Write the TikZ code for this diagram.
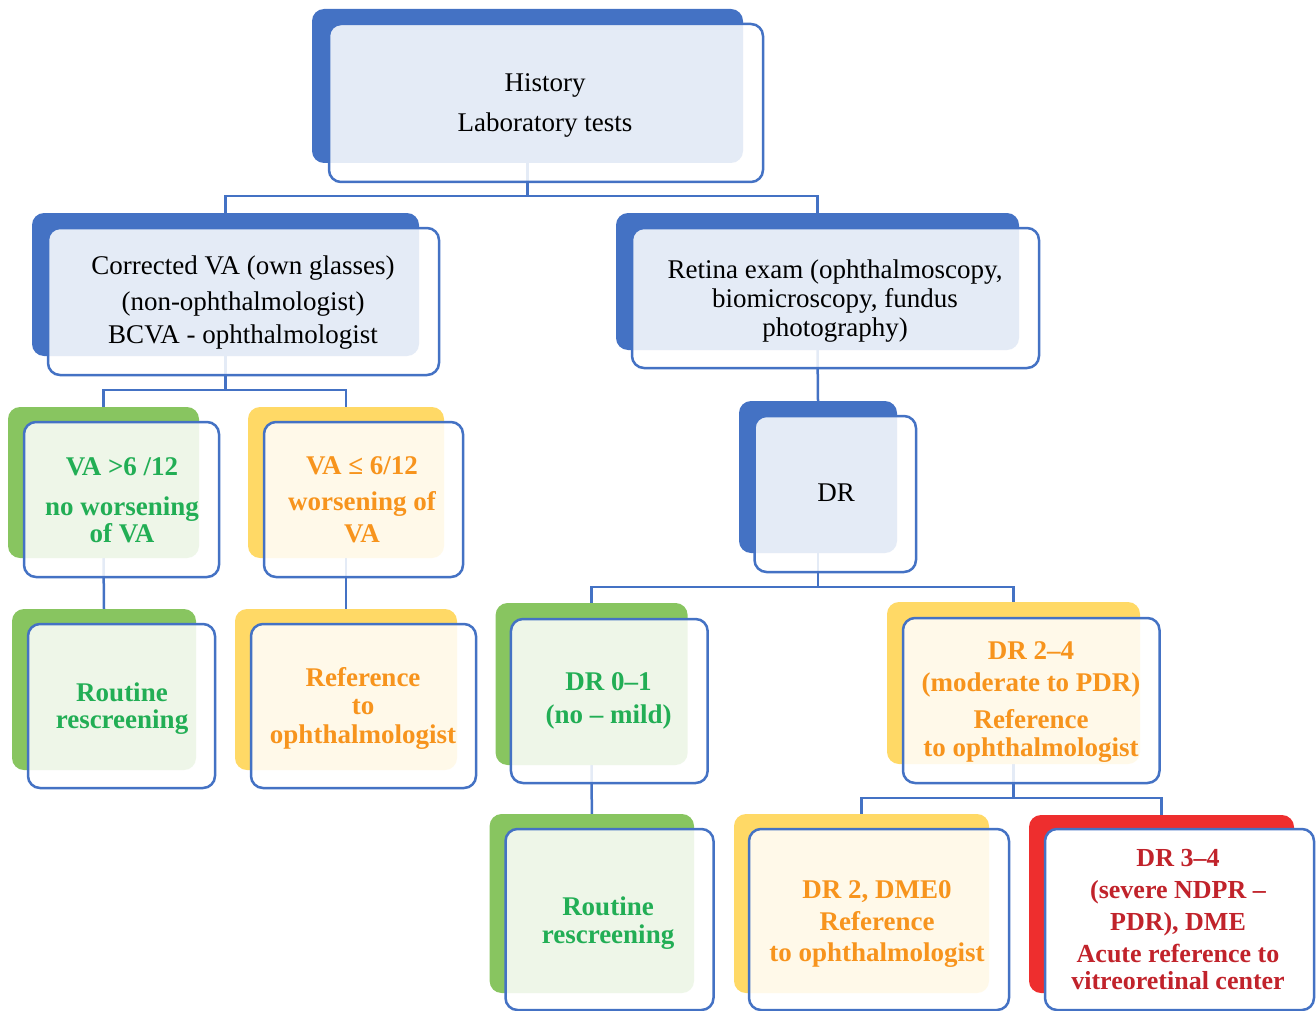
\documentclass[tikz,border=0pt]{standalone}
\usepackage{fontspec}
\setmainfont{Liberation Serif}
\usetikzlibrary{backgrounds}
\definecolor{dblue}{HTML}{4472C4}
\definecolor{bgreen}{HTML}{88C560}
\definecolor{byellow}{HTML}{FFD966}
\definecolor{bred}{HTML}{EE2E2E}
\definecolor{tgreen}{HTML}{22AE55}
\definecolor{torange}{HTML}{F7941D}
\definecolor{tred}{HTML}{C1232B}
\newcommand{\strH}{\rule{0pt}{25pt}}
\newcommand{\strD}{\rule[-6pt]{0pt}{6pt}}
\tikzset{
  backbox/.style={rectangle, rounded corners=12pt, inner sep=0pt, fill=#1, draw=none},
  frontbox/.style={rectangle, rounded corners=12pt, inner sep=0pt, draw=dblue, line width=2.5pt, fill=white, fill opacity=0.86},
  redfront/.style={rectangle, rounded corners=12pt, inner sep=0pt, draw=dblue, line width=2.5pt, fill=white},
  link/.style={draw=dblue, line width=2.5pt},
  txt/.style={align=center, inner sep=0pt, text=#1},
}
\begin{document}
\begin{tikzpicture}[x=1pt,y=-1pt]
\useasboundingbox (0,0) rectangle (1316,1011);
% History
\node[backbox=dblue, minimum width=431pt, minimum height=154pt] (hb) at (527.5,86) {};
\node[frontbox, minimum width=434pt, minimum height=158pt] (hf) at (546,103) {};
\node[txt=black, font=\fontsize{27}{40}\selectfont] (ht) at (545,102.5) {\strH History\\ Laboratory tests\strD};
% Corrected VA
\node[backbox=dblue, minimum width=387pt, minimum height=143pt] (cb) at (225.5,284.5) {};
\node[frontbox, minimum width=391pt, minimum height=147pt] (cf) at (243.5,301.5) {};
\node[txt=black, font=\fontsize{27}{36}\selectfont] (ct) at (243,299) {\strH Corrected VA (own glasses)\\ (non-ophthalmologist)\\[-3pt] BCVA - ophthalmologist\strD};
% Retina exam
\node[backbox=dblue, minimum width=403pt, minimum height=137pt] (rb) at (817.5,281.5) {};
\node[frontbox, minimum width=407pt, minimum height=140pt] (rf) at (835.5,298) {};
\node[txt=black, font=\fontsize{27}{29}\selectfont] (rt) at (835,298) {\strH Retina exam (ophthalmoscopy,\\ biomicroscopy, fundus\\ photography)\strD};
% DR
\node[backbox=dblue, minimum width=158pt, minimum height=152pt] (db) at (818,477) {};
\node[frontbox, minimum width=161.5pt, minimum height=156pt] (df) at (835.25,494) {};
\node[txt=black, font=\fontsize{27}{28}\selectfont] (dt) at (836,492.2) {\strH DR\strD};
% VA > 6/12
\node[backbox=bgreen, minimum width=191pt, minimum height=151pt] (v1b) at (103.5,482.5) {};
\node[frontbox, minimum width=195pt, minimum height=155pt] (v1f) at (121.5,499.5) {};
\node[txt=tgreen, font=\bfseries\fontsize{27}{27}\selectfont] (v1t) at (122,499) {\strH VA >6 /12\\[13pt] no worsening\\ of VA\strD};
% VA <= 6/12
\node[backbox=byellow, minimum width=196pt, minimum height=151pt] (v2b) at (346,482.5) {};
\node[frontbox, minimum width=199pt, minimum height=155pt] (v2f) at (363.5,499.5) {};
\node[txt=torange, font=\bfseries\fontsize{27}{32}\selectfont] (v2t) at (362,498.5) {\strH VA ≤ 6/12\\[4pt] worsening of\\ VA\strD};
% Routine rescreening 1
\node[backbox=bgreen, minimum width=184pt, minimum height=161pt] (r1b) at (104,689.5) {};
\node[frontbox, minimum width=187pt, minimum height=164pt] (r1f) at (121.5,706) {};
\node[txt=tgreen, font=\bfseries\fontsize{27}{27}\selectfont] (r1t) at (122,705.3) {\strH Routine\\ rescreening\strD};
% Reference to ophthalmologist 1
\node[backbox=byellow, minimum width=222pt, minimum height=161pt] (f1b) at (346,689.5) {};
\node[frontbox, minimum width=225pt, minimum height=164pt] (f1f) at (363.5,706) {};
\node[txt=torange, font=\bfseries\fontsize{27}{28.5}\selectfont] (f1t) at (363,705.4) {\strH Reference\\ to\\ ophthalmologist\strD};
% DR 0-1
\node[backbox=bgreen, minimum width=192pt, minimum height=162pt] (d01b) at (591.6,684) {};
\node[frontbox, minimum width=196.7pt, minimum height=164pt] (d01f) at (609.3,701) {};
\node[txt=tgreen, font=\bfseries\fontsize{27}{33}\selectfont] (d01t) at (608.6,697) {\strH DR 0–1\\ (no – mild)\strD};
% DR 2-4
\node[backbox=byellow, minimum width=253pt, minimum height=162pt] (d24b) at (1013.5,683) {};
\node[frontbox, minimum width=256.5pt, minimum height=165pt] (d24f) at (1031.25,700.5) {};
\node[txt=torange, font=\bfseries\fontsize{27}{28.4}\selectfont] (d24t) at (1031,698.5) {\strH DR 2–4\\[4pt] (moderate to PDR)\\[8.2pt] Reference\\ to ophthalmologist\strD};
% Routine rescreening 2
\node[backbox=bgreen, minimum width=204.4pt, minimum height=179pt] (r2b) at (591.8,903.5) {};
\node[frontbox, minimum width=208pt, minimum height=181pt] (r2f) at (609.5,919.5) {};
\node[txt=tgreen, font=\bfseries\fontsize{27}{28.3}\selectfont] (r2t) at (608,919.7) {\strH Routine\\ rescreening\strD};
% DR 2, DME0
\node[backbox=byellow, minimum width=255pt, minimum height=179pt] (m0b) at (861.5,903.5) {};
\node[frontbox, minimum width=260pt, minimum height=181pt] (m0f) at (879,919.5) {};
\node[txt=torange, font=\bfseries\fontsize{27}{31.7}\selectfont] (m0t) at (877,920.5) {\strH DR 2, DME0\\ Reference\\ to ophthalmologist\strD};
% DR 3-4
\node[backbox=bred, minimum width=265pt, minimum height=178pt] (d34b) at (1161.5,904) {};
\node[redfront, minimum width=269pt, minimum height=181pt] (d34f) at (1179.5,919.5) {};
\node[txt=tred, font=\bfseries\fontsize{26}{32}\selectfont] (d34t) at (1178,918.5) {\strH DR 3–4\\ (severe NDPR –\\ PDR), DME\\ Acute reference to\\[-5pt] vitreoretinal center\strD};
% connectors
\begin{scope}[on background layer]
\draw[link] (hb.south) -- ++(0,33) -| (cb.north);
\draw[link] (hb.south) -- ++(0,33) -| (rb.north);
\draw[link] (cb.south) -- ++(0,34) -| (v1b.north);
\draw[link] (cb.south) -- ++(0,34) -| (v2b.north);
\draw[link] (rb.south) -- (db.north);
\draw[link] (v1b.south) -- (r1b.north);
\draw[link] (v2b.south) -- (f1b.north);
\draw[link] (db.south) -- ++(0,34) -| (d01b.north);
\draw[link] (db.south) -- ++(0,34) -| (d24b.north);
\draw[link] (d01b.south) -- (r2b.north);
\draw[link] (d24b.south) -- ++(0,34) -| (m0b.north);
\draw[link] (d24b.south) -- ++(0,34) -| (d34b.north);
\end{scope}
\end{tikzpicture}
\end{document}
